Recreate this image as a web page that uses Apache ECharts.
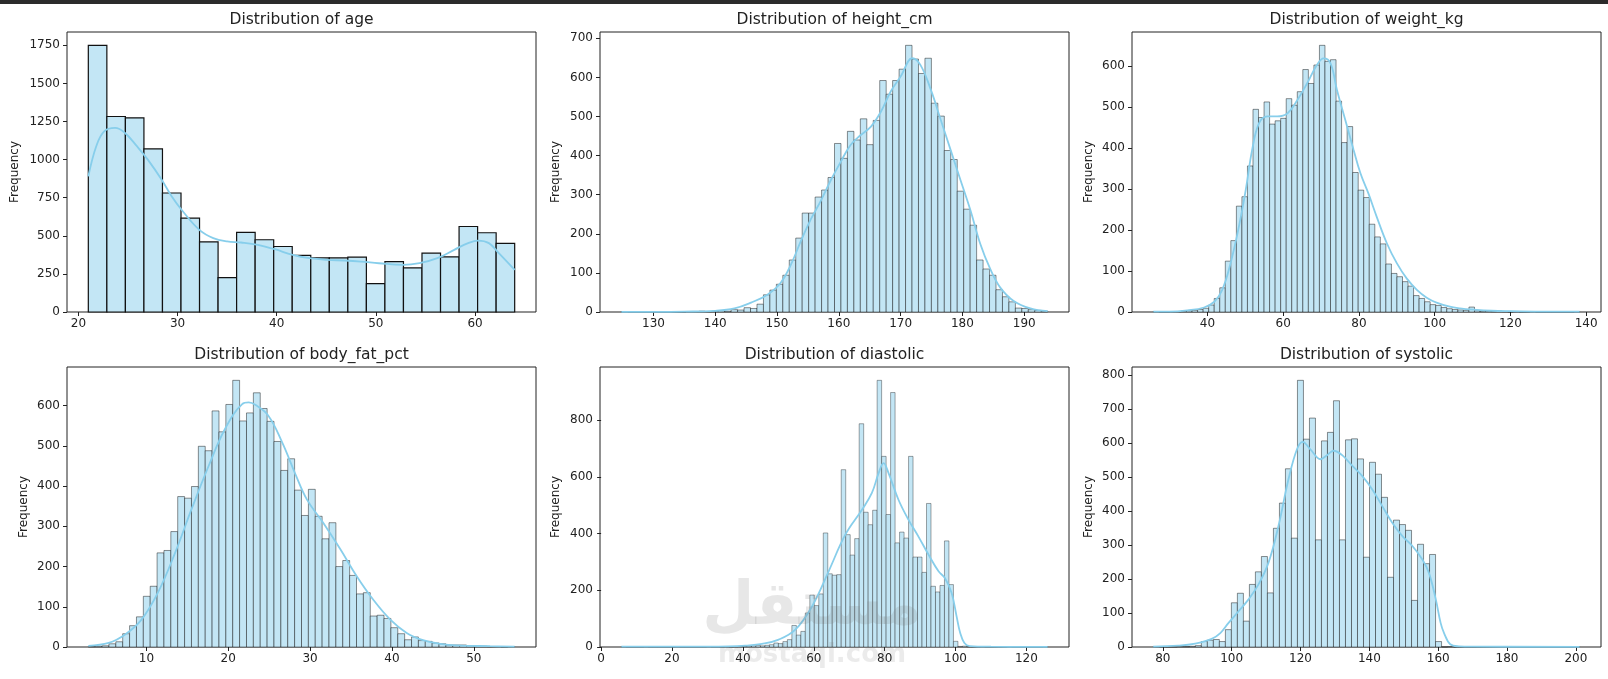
<!DOCTYPE html>
<html>
<head>
<meta charset="utf-8">
<script src="https://cdn.jsdelivr.net/npm/echarts@6/dist/echarts.min.js"></script>
<style>
  html, body { margin: 0; padding: 0; background: #fff; }
  #chart { width: 1608px; height: 679px; }
</style>
</head>
<body>
<div id="chart"></div>
<script>
// histogram counts, bins span [lo, hi] evenly
const ageRange = [21, 64];
const ageCounts = [1750, 1283, 1274, 1070, 781, 616, 460, 226, 522, 474, 430, 371, 355, 355, 360, 186, 331, 289, 386, 362, 561, 520, 450];
const ageKde = [[21, 890], [21.8, 1088], [22.6, 1186], [23.7, 1208], [24.7, 1175], [25.9, 1088], [27, 1000], [28.4, 868], [29.4, 759], [30.4, 671], [32.2, 539], [33.6, 485], [35, 463], [36.4, 456], [38.1, 441], [39.8, 412], [41.6, 375], [43.3, 353], [45.1, 342], [46.8, 338], [48.5, 331], [50.3, 320], [52.7, 309], [54.4, 320], [56.2, 353], [57.9, 408], [59.3, 452], [60.3, 469], [61.4, 452], [62.4, 386], [64, 276]];

const heightRange = [124.8, 193.8];
const heightCounts = [1, 0, 0, 0, 0, 0, 0, 0, 0, 0, 1, 1, 2,
  1, 2, 3, 2, 6, 5, 11, 9, 20, 44, 56, 71, 94, 133, 189, 253, 253, 294, 312, 344, 431, 393, 462, 440, 494, 428, 490,
  592, 557, 592, 621, 682, 647, 610, 649, 534, 501, 413, 390, 309, 263, 222, 133, 110, 94, 57, 39, 26, 10, 9, 6, 4, 2];
const heightKde = [[124.8, 0.5], [130, 0.5], [135, 1], [140, 3], [143.1, 9], [145.8, 24], [148.5, 45], [150.6, 75], [152.3, 123], [153.9, 183], [155.5, 238], [157.1, 285], [158.7, 337], [160.3, 384], [161.9, 427], [163.5, 452], [165.2, 474], [166.8, 512], [168.4, 564], [170, 602], [171.9, 649], [173.2, 632], [174.9, 568], [176.5, 491], [178.1, 414], [179.7, 337], [181.3, 260], [182.9, 174], [184.5, 110], [186.1, 63], [188.3, 28], [191, 9], [193.8, 2]];

const weightRange = [25.7, 138.3];
const weightCounts = [1, 0, 0, 1, 1, 2, 3, 4, 6,
  9, 17, 33, 59, 124, 174, 258, 281, 356, 494, 474, 512, 458, 466, 472, 520, 504, 537, 591, 557, 602, 650, 611, 615,
  514, 413, 452, 340, 297, 279, 214, 183, 166, 117, 94, 86, 74, 63, 40, 33, 25, 18, 16, 11, 8, 6, 5, 4, 12, 3, 2, 2,
  1, 2, 1, 0, 1, 0, 0, 1, 0, 0, 0, 0, 0, 0, 0, 1];
const weightKde = [[25.7, 1], [30, 1], [34.7, 4], [39.1, 11], [41.8, 25], [43.9, 54], [46.1, 119], [48.3, 208], [50.1, 297], [51.8, 395], [53.6, 460], [55.8, 477], [58.4, 477], [61.1, 484], [63.7, 516], [66.3, 557], [68.9, 602], [70.7, 618], [72.5, 606], [74.2, 541], [76.4, 468], [78.6, 395], [80.4, 338], [82.5, 289], [84.7, 232], [87.4, 167], [90, 119], [92.6, 82], [95.3, 54], [97.9, 35], [100.5, 23], [104, 13], [106.7, 9], [110, 6], [115, 3], [120, 2], [130, 1], [138.3, 1]];

const fatRange = [2.9, 55.0];
const fatCounts = [1, 2, 3, 8, 13, 33, 53, 75, 126, 151, 234, 240, 287, 374, 370, 399, 499, 488, 587, 535,
  603, 663, 562, 582, 632, 593, 561, 511, 439, 468, 390, 327, 392, 325, 269, 309, 200, 215, 178, 132,
  135, 77, 79, 71, 48, 33, 18, 25, 16, 14, 10, 8, 5, 5, 5, 3, 2, 2, 1, 1, 0, 1];
const fatKde = [[2.9, 3], [5.4, 10], [7.4, 31], [9.4, 68], [11.4, 135], [13.5, 234], [15.5, 342], [17.6, 450], [19.6, 542], [21.7, 604], [22.5, 608], [23.3, 602], [24.9, 575], [26.6, 508], [28.2, 430], [29.6, 367], [31.6, 309], [33.7, 243], [35.7, 176], [37.7, 118], [39.8, 68], [41.8, 35], [43.8, 17], [45.9, 8], [47.9, 4], [52, 2], [55, 1]];

const diaRange = [5.7, 126.0];
const diaCounts = [1, 0, 0, 0, 0, 1, 0, 0, 0, 0, 0, 0, 1, 0, 0, 0, 0, 0, 0, 1,
  0, 0, 0, 1, 0, 1, 2, 2, 3, 4, 5, 4, 6, 8, 14, 12, 19, 26,
  76, 42, 55, 120, 183, 146, 187, 402, 258, 253, 255, 625, 396, 324, 382, 787, 475, 431, 482, 940,
  672, 467, 897, 367, 405, 384, 672, 317, 317, 263, 506, 214, 194, 217, 374, 220, 20, 2, 3, 1,
  0, 0, 1, 0, 0, 0, 0, 0, 1, 0, 0, 0, 0, 0, 0, 0, 1];
const diaKde = [[5.7, 1], [20, 1], [30, 1], [36, 2], [40.7, 5], [45.4, 11], [50.1, 26], [54.8, 61], [59.5, 143], [64.2, 267], [68.9, 396], [73.6, 484], [76.4, 543], [78.3, 613], [79.7, 648], [81.1, 613], [83.9, 519], [86.7, 449], [89.5, 390], [92.4, 325], [95.2, 267], [97, 243], [98.9, 190], [100.3, 108], [101.3, 50], [102.5, 14], [104, 3], [110, 1], [126, 0.5]];

const sysRange = [77.24, 201.1];
const sysCounts = [1, 0, 0, 0, 1, 1, 2, 4, 16, 20, 22, 16, 51, 130, 158, 76, 184, 221, 266, 159, 349, 423, 524, 320,
  784, 611, 673, 315, 606, 631, 724, 315, 609, 612, 553, 264, 543, 508, 440, 205, 373, 360, 343, 137, 302, 245, 272, 16,
  0, 1, 0, 0, 0, 0, 0, 0, 0, 0, 0, 0, 0, 0, 0, 0, 0, 0, 0, 0, 0, 0, 1];
const sysKde = [[77.2, 1], [84.5, 4], [89.4, 10], [94.2, 24], [96.7, 41], [99.1, 71], [102, 105], [104.9, 140], [107.8, 184], [110.7, 248], [113.6, 356], [116.5, 493], [119, 582], [120.6, 603], [122.8, 582], [125.8, 552], [127.7, 564], [129.6, 577], [132.1, 564], [135, 533], [137.9, 503], [140.8, 464], [143.7, 415], [146.6, 366], [149.6, 326], [152.5, 297], [155.4, 257], [157.3, 218], [159.3, 140], [160.7, 71], [161.7, 41], [163.5, 8], [166, 2], [170, 1], [201.1, 0.5]];

// tick labels
const ageXTicks = [20, 30, 40, 50, 60];
const ageYTicks = [0, 250, 500, 750, 1000, 1250, 1500, 1750];
const heightXTicks = [130, 140, 150, 160, 170, 180, 190];
const heightYTicks = [0, 100, 200, 300, 400, 500, 600, 700];
const weightXTicks = [40, 60, 80, 100, 120, 140];
const weightYTicks = [0, 100, 200, 300, 400, 500, 600];
const fatXTicks = [10, 20, 30, 40, 50];
const fatYTicks = [0, 100, 200, 300, 400, 500, 600];
const diaXTicks = [0, 20, 40, 60, 80, 100, 120];
const diaYTicks = [0, 200, 400, 600, 800];
const sysXTicks = [80, 100, 120, 140, 160, 180, 200];
const sysYTicks = [0, 100, 200, 300, 400, 500, 600, 700, 800];

const FONT = 'DejaVu Sans';
const TXT = '#222';
const BAR_FILL = '#c3e6f5';
const KDE = '#87ceeb';

const panels = [
  { title: 'Distribution of age', range: ageRange, counts: ageCounts, kde: ageKde, xt: ageXTicks, yt: ageYTicks, edge: '#111', ew: 1.2, gap: 46 },
  { title: 'Distribution of height_cm', range: heightRange, counts: heightCounts, kde: heightKde, xt: heightXTicks, yt: heightYTicks, edge: 'rgba(0,0,0,0.55)', ew: 0.8, gap: 38 },
  { title: 'Distribution of weight_kg', range: weightRange, counts: weightCounts, kde: weightKde, xt: weightXTicks, yt: weightYTicks, edge: 'rgba(0,0,0,0.55)', ew: 0.8, gap: 37 },
  { title: 'Distribution of body_fat_pct', range: fatRange, counts: fatCounts, kde: fatKde, xt: fatXTicks, yt: fatYTicks, edge: 'rgba(0,0,0,0.55)', ew: 0.8, gap: 37 },
  { title: 'Distribution of diastolic', range: diaRange, counts: diaCounts, kde: diaKde, xt: diaXTicks, yt: diaYTicks, edge: 'rgba(0,0,0,0.5)', ew: 0.7, gap: 38 },
  { title: 'Distribution of systolic', range: sysRange, counts: sysCounts, kde: sysKde, xt: sysXTicks, yt: sysYTicks, edge: 'rgba(0,0,0,0.55)', ew: 0.8, gap: 37 }
];

const colLeft = [67, 600, 1132];
const rowTop = [32, 367];
const titleTop = [12, 347];
const W = 469, H = 280;

function makeBins(range, counts) {
  const w = (range[1] - range[0]) / counts.length;
  return counts.map((c, i) => [range[0] + i * w, range[0] + (i + 1) * w, c]);
}

const plain = v => String(v);
const grids = [], xAxes = [], yAxes = [], series = [], titles = [];

panels.forEach(function (p, i) {
  const left = colLeft[i % 3];
  const row = Math.floor(i / 3);
  const top = rowTop[row];
  const span = p.range[1] - p.range[0];
  const ymax = Math.max.apply(null, p.counts) * 1.05;

  grids.push({ left: left, top: top, width: W, height: H, show: true, borderColor: '#222', borderWidth: 1, backgroundColor: 'transparent' });

  xAxes.push({
    type: 'value', gridIndex: i,
    min: p.range[0] - span * 0.05, max: p.range[1] + span * 0.05,
    splitLine: { show: false },
    axisLine: { show: false },
    axisTick: { show: true, length: 4, customValues: p.xt, lineStyle: { color: TXT, width: 1 } },
    axisLabel: { customValues: p.xt, formatter: plain, margin: 6, color: TXT, fontSize: 12, fontFamily: FONT }
  });

  yAxes.push({
    type: 'value', gridIndex: i, min: 0, max: ymax,
    name: 'Frequency', nameLocation: 'middle', nameGap: p.gap, nameRotate: 90,
    nameTextStyle: { color: TXT, fontSize: 12, fontFamily: FONT },
    splitLine: { show: false },
    axisLine: { show: false },
    axisTick: { show: true, length: 4, customValues: p.yt, lineStyle: { color: TXT, width: 1 } },
    axisLabel: { customValues: p.yt, formatter: plain, margin: 7, color: TXT, fontSize: 12, fontFamily: FONT }
  });

  series.push({
    type: 'custom', xAxisIndex: i, yAxisIndex: i,
    encode: { x: [0, 1], y: 2 },
    data: makeBins(p.range, p.counts),
    silent: true,
    renderItem: function (params, api) {
      const a = api.coord([api.value(0), api.value(2)]);
      const b = api.coord([api.value(1), 0]);
      return {
        type: 'rect',
        shape: { x: a[0], y: a[1], width: b[0] - a[0], height: b[1] - a[1] },
        style: { fill: BAR_FILL, stroke: p.edge, lineWidth: p.ew }
      };
    }
  });

  series.push({
    type: 'line', xAxisIndex: i, yAxisIndex: i,
    data: p.kde, smooth: 0.4, showSymbol: false, silent: true,
    lineStyle: { color: KDE, width: 1.8 }
  });

  titles.push({
    text: p.title, left: left + W / 2, top: titleTop[row], textAlign: 'center', padding: 0,
    textStyle: { color: TXT, fontSize: 15.5, fontWeight: 'normal', fontFamily: FONT }
  });
});

const option = {
  animation: false,
  backgroundColor: '#fff',
  title: titles,
  grid: grids,
  xAxis: xAxes,
  yAxis: yAxes,
  series: series,
  graphic: [
    { type: 'rect', left: 0, top: 0, shape: { width: 1608, height: 4 }, style: { fill: '#2b2b2b' } },
    { type: 'text', x: 812, y: 608, z: 100, style: { text: 'مستقل', align: 'center', verticalAlign: 'middle', font: 'bold 60px "DejaVu Sans"', fill: 'rgba(120,120,120,0.18)' } },
    { type: 'text', x: 812, y: 655, z: 100, style: { text: 'mostaql.com', align: 'center', verticalAlign: 'middle', font: 'bold 26px "DejaVu Sans"', fill: 'rgba(120,120,120,0.15)' } }
  ]
};

document.addEventListener('DOMContentLoaded', function () {
  const chart = echarts.init(document.getElementById('chart'));
  chart.setOption(option);
});
</script>
</body>
</html>
